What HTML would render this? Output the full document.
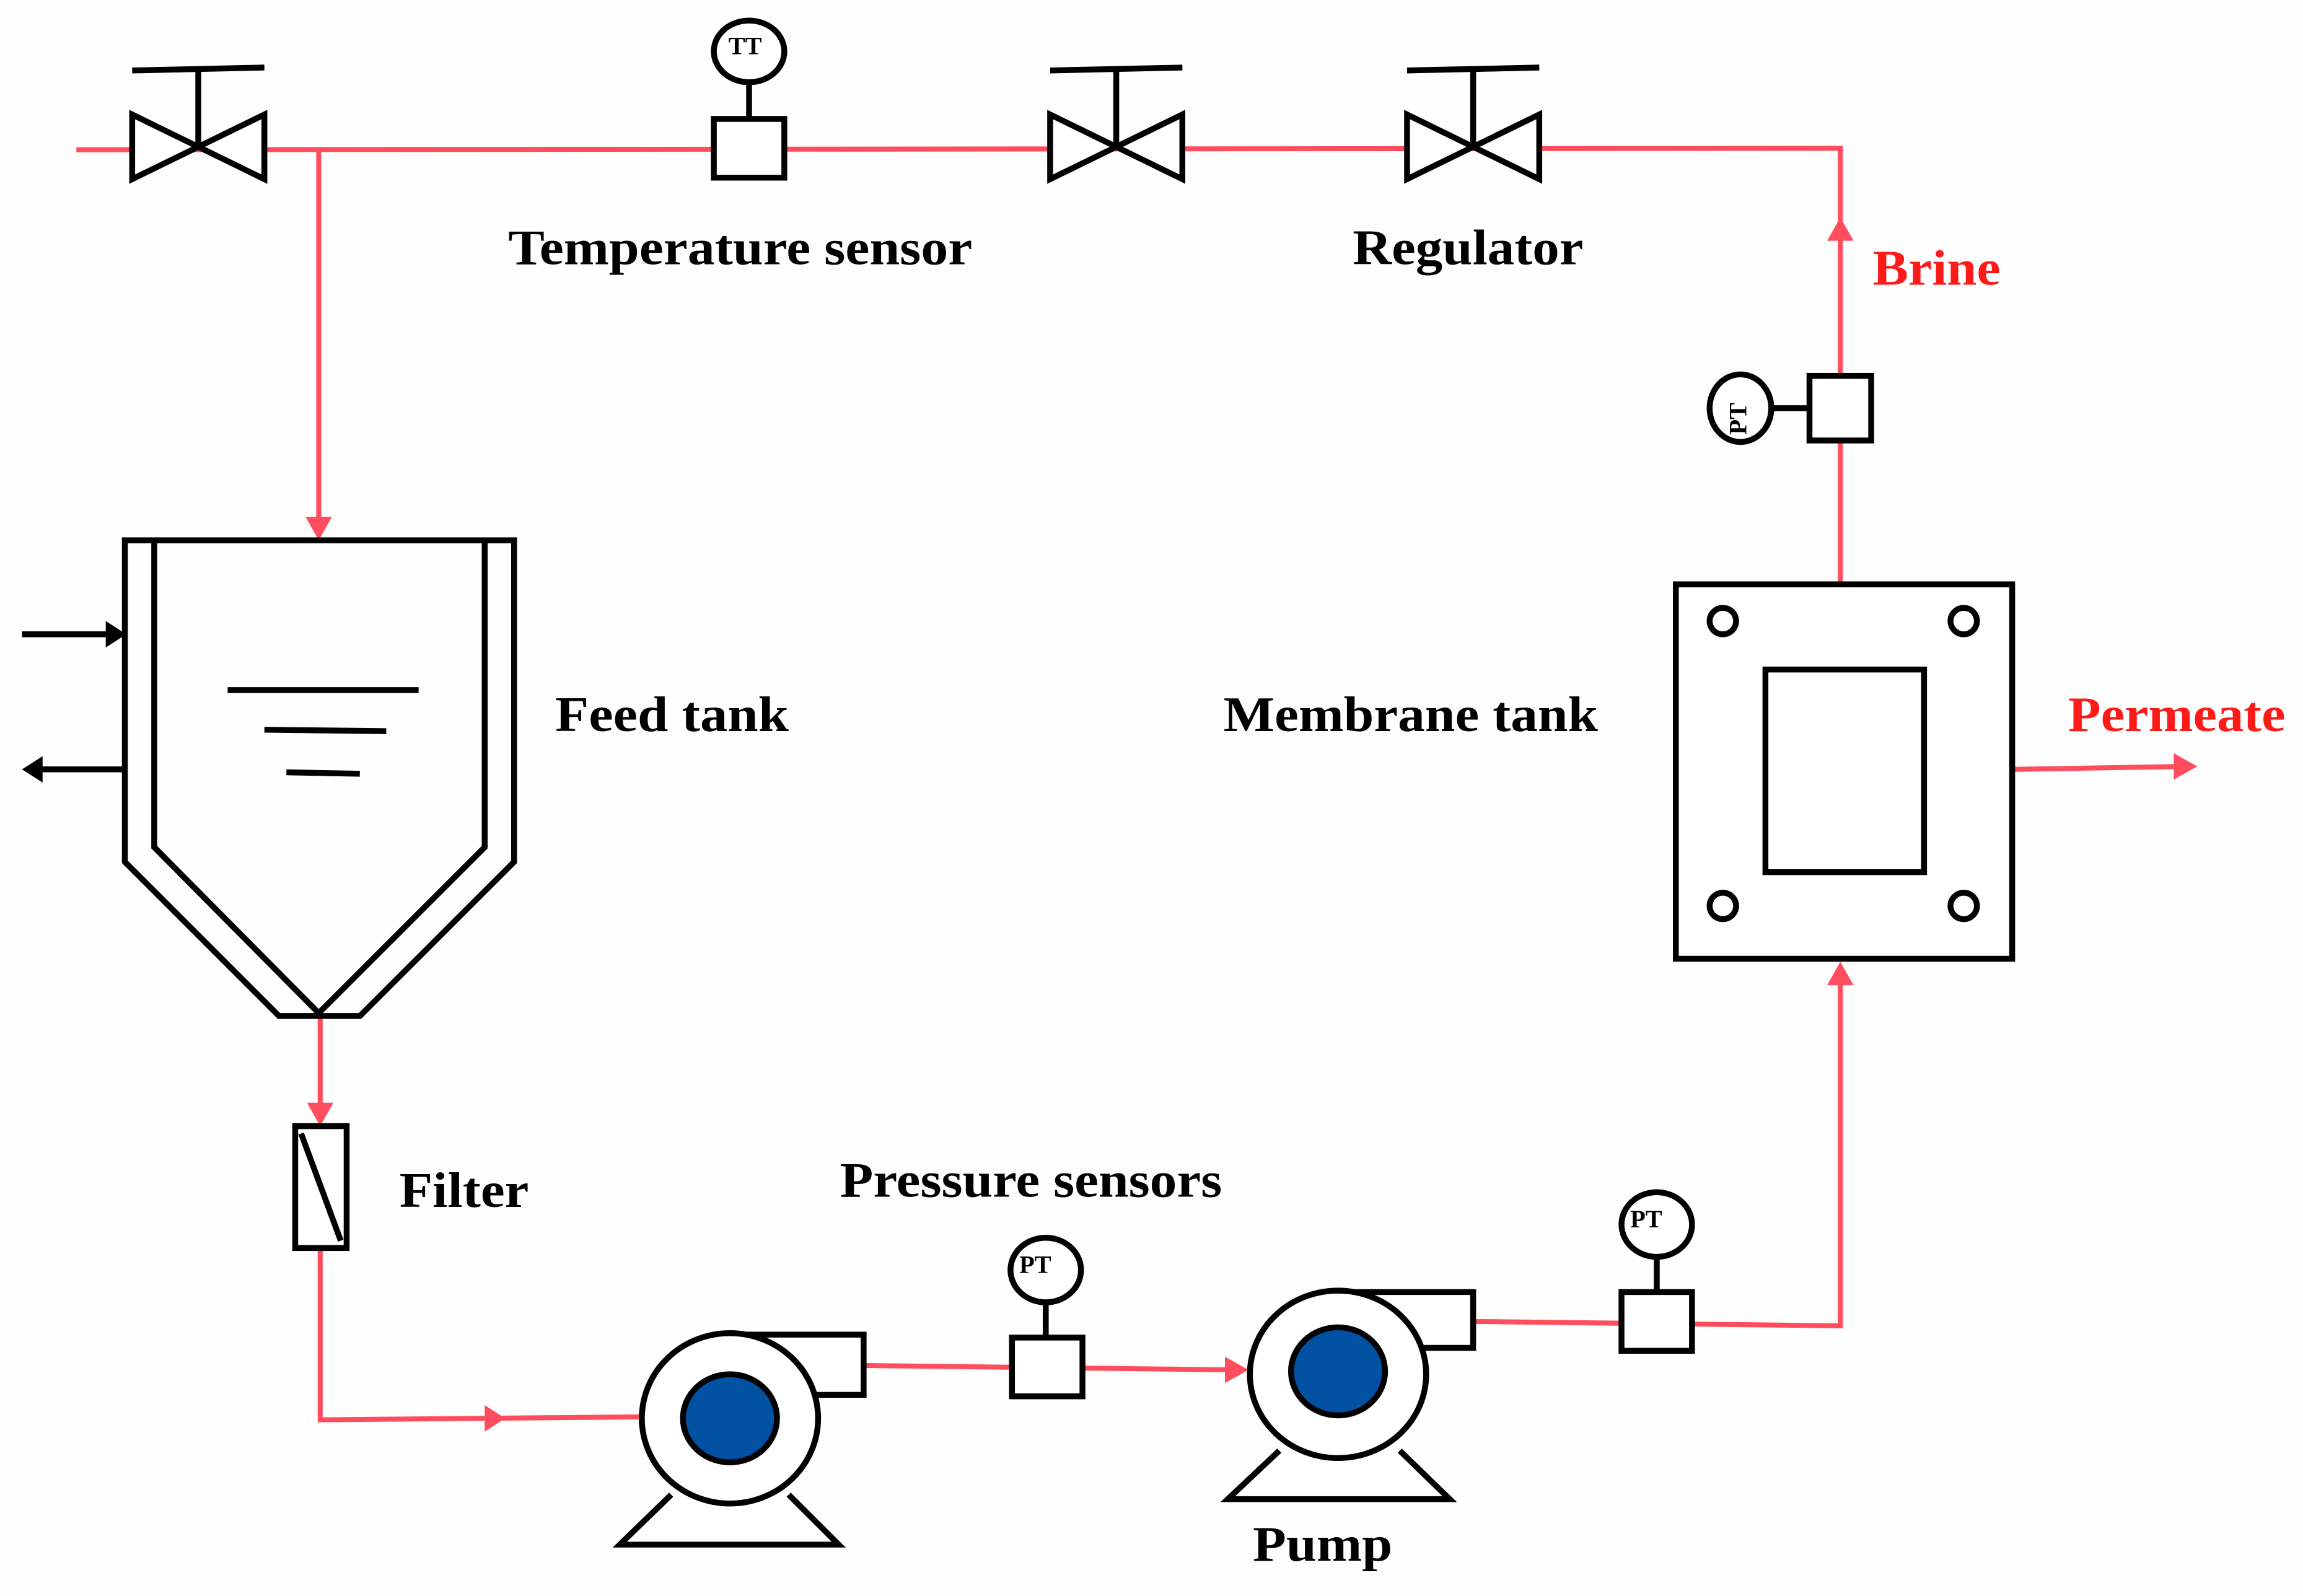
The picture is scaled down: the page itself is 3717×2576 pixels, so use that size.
<!DOCTYPE html>
<html><head><meta charset="utf-8"><style>
html,body{margin:0;padding:0;background:#fefefe;}
svg{display:block;}
text{font-family:"Liberation Serif",serif;font-weight:bold;}
</style></head><body>
<svg width="3717" height="2576" viewBox="0 0 1568 1087" preserveAspectRatio="none" xmlns="http://www.w3.org/2000/svg">
<rect width="1568" height="1087" fill="#fefefe"/>
<g stroke="#ff4d5e" stroke-width="3.4" fill="none">
<polyline points="52,102 1253,101 1253,397"/>
<line x1="217" y1="102" x2="217" y2="360"/>
<line x1="218" y1="692" x2="218" y2="760"/>
<polyline points="218,850 218,967 437,965"/>
<line x1="588" y1="930" x2="842" y2="933"/>
<polyline points="1003,900 1253,903 1253,662"/>
<line x1="1370" y1="524" x2="1488" y2="522"/>
</g>
<g fill="#ff4d5e">
<polygon points="1253,148 1244,164 1262,164"/>
<polygon points="217,368 208,352 226,352"/>
<polygon points="218,767 209,751 227,751"/>
<polygon points="344,966 330,957 330,975"/>
<polygon points="850,933 834,924 834,942"/>
<polygon points="1253,655 1244,671 1262,671"/>
<polygon points="1496,522 1480,513 1480,531"/>
</g>
<g stroke="#000" stroke-width="4" fill="none">
<!-- valves -->
<polygon points="90,78 90,122 135,100" fill="#fff"/><polygon points="180,78 180,122 135,100" fill="#fff"/>
<line x1="135" y1="100" x2="135" y2="47"/><line x1="90" y1="48" x2="180" y2="46"/>
<polygon points="715,78 715,122 760,100" fill="#fff"/><polygon points="805,78 805,122 760,100" fill="#fff"/>
<line x1="760" y1="100" x2="760" y2="47"/><line x1="715" y1="48" x2="805" y2="46"/>
<polygon points="958,78 958,122 1003,100" fill="#fff"/><polygon points="1048,78 1048,122 1003,100" fill="#fff"/>
<line x1="1003" y1="100" x2="1003" y2="47"/><line x1="958" y1="48" x2="1048" y2="46"/>
<!-- TT -->
<rect x="486" y="81" width="48" height="40" fill="#fff"/>
<line x1="510" y1="81" x2="510" y2="57"/>
<ellipse cx="510" cy="35" rx="24" ry="21" fill="#fff"/>
<!-- Brine PT -->
<rect x="1232" y="256" width="42" height="44" fill="#fff"/>
<line x1="1232" y1="278" x2="1207" y2="278"/>
<ellipse cx="1185" cy="278" rx="21" ry="23" fill="#fff"/>
<!-- membrane -->
<rect x="1141" y="398" width="229" height="255" fill="#fff"/>
<rect x="1202" y="456" width="108" height="138"/>
<circle cx="1173" cy="423" r="9"/><circle cx="1337" cy="423" r="9"/>
<circle cx="1173" cy="617" r="9"/><circle cx="1337" cy="617" r="9"/>
<!-- feed tank -->
<path d="M85,368 L85,587 L190,692 L245,692 L350,587 L350,368 Z"/>
<path d="M105,368 L105,577 L217,690 L330,577 L330,368"/>
<line x1="155" y1="470" x2="285" y2="470"/>
<line x1="180" y1="497" x2="263" y2="498"/>
<line x1="195" y1="526" x2="245" y2="527"/>
<line x1="15" y1="432" x2="75" y2="432"/>
<line x1="85" y1="524" x2="25" y2="524"/>
<!-- filter -->
<rect x="201" y="767" width="35" height="83" fill="#fff"/>
<line x1="205" y1="772" x2="232" y2="845"/>
<!-- pump1 -->
<polyline points="457,1018 422,1052 571,1052 537,1018" fill="#fff"/>
<path d="M497,909 L588,909 L588,950 L553,950" fill="#fff"/>
<ellipse cx="497" cy="966" rx="60" ry="58" fill="#fff"/>
<ellipse cx="497" cy="966" rx="32" ry="30" fill="#0051a2"/>
<!-- PT2 -->
<rect x="689" y="911" width="48" height="40" fill="#fff"/>
<line x1="712" y1="911" x2="712" y2="887"/>
<ellipse cx="712" cy="865" rx="24" ry="22" fill="#fff"/>
<!-- pump2 -->
<polyline points="871,988 836,1021 987,1021 953,988" fill="#fff"/>
<path d="M911,880 L1003,880 L1003,918 L967,918" fill="#fff"/>
<ellipse cx="911" cy="936" rx="60" ry="57" fill="#fff"/>
<ellipse cx="911" cy="934" rx="32" ry="30" fill="#0051a2"/>
<!-- PT3 -->
<rect x="1104" y="880" width="48" height="40" fill="#fff"/>
<line x1="1128" y1="880" x2="1128" y2="856"/>
<ellipse cx="1128" cy="834" rx="24" ry="22" fill="#fff"/>
</g>
<polygon points="86,432 72,423 72,441" fill="#000"/>
<polygon points="15,524 29,515 29,533" fill="#000"/>
<g font-size="17" fill="#000">
<text x="496" y="37">TT</text>
<text x="694" y="867">PT</text>
<text x="1110" y="836">PT</text>
<text transform="translate(1189,296) rotate(-90)">PT</text>
</g>
<g font-size="34" fill="#000">
<text x="346" y="180" textLength="316" lengthAdjust="spacingAndGlyphs">Temperature sensor</text>
<text x="921" y="180" textLength="157" lengthAdjust="spacingAndGlyphs">Regulator</text>
<text x="378" y="498" textLength="159" lengthAdjust="spacingAndGlyphs">Feed tank</text>
<text x="833" y="498" textLength="255" lengthAdjust="spacingAndGlyphs">Membrane tank</text>
<text x="272" y="822" textLength="88" lengthAdjust="spacingAndGlyphs">Filter</text>
<text x="572" y="815" textLength="260" lengthAdjust="spacingAndGlyphs">Pressure sensors</text>
<text x="853" y="1063" textLength="95" lengthAdjust="spacingAndGlyphs">Pump</text>
</g>
<g font-size="34" fill="#ff1a1a">
<text x="1275" y="194" textLength="87" lengthAdjust="spacingAndGlyphs">Brine</text>
<text x="1408" y="498" textLength="148" lengthAdjust="spacingAndGlyphs">Permeate</text>
</g>
</svg>
</body></html>
